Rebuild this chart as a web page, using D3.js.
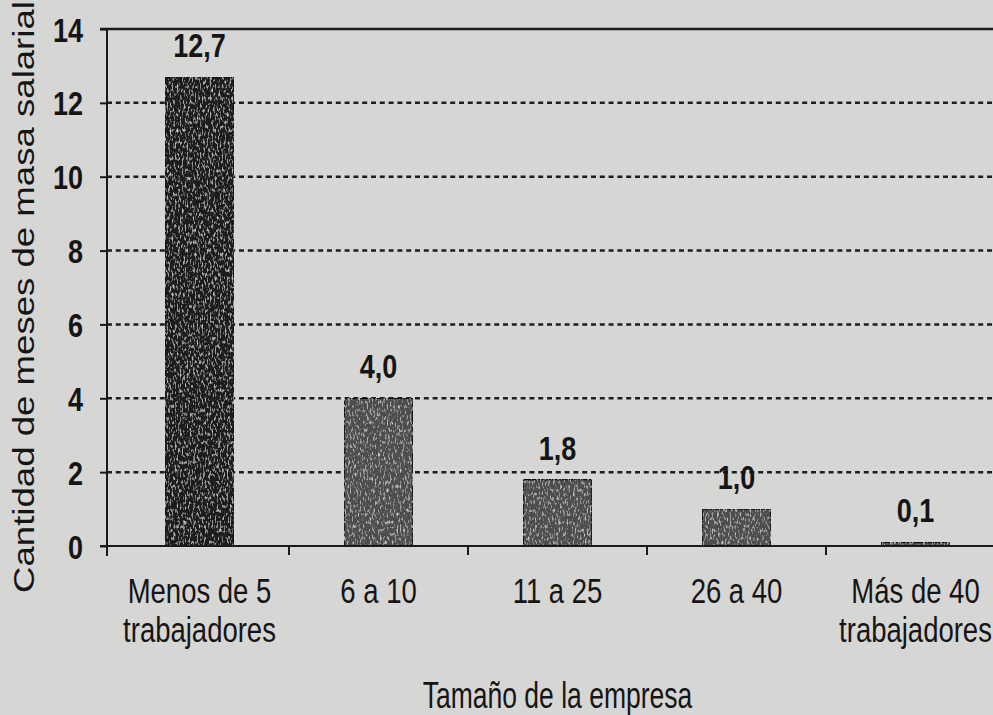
<!DOCTYPE html>
<html>
<head>
<meta charset="utf-8">
<script src="https://cdn.jsdelivr.net/npm/d3@7/dist/d3.min.js"></script>
<style>
  html, body { margin: 0; padding: 0; background: #d6d6d4; }
  svg { display: block; }
</style>
</head>
<body>
<div id="chart"></div>
<script>
// Tamaño de empresa vs. meses de masa salarial
const categories = [
  ['Menos de 5', 'trabajadores'],
  ['6 a 10'],
  ['11 a 25'],
  ['26 a 40'],
  ['Más de 40', 'trabajadores']
];
const values = [12.7, 4.0, 1.8, 1.0, 0.1];
const valueLabels = ['12,7', '4,0', '1,8', '1,0', '0,1'];
const yTicks = [0, 2, 4, 6, 8, 10, 12, 14];

const width = 993, height = 715;
const margin = { top: 29, left: 107, bottom: 169 };
const innerW = width - margin.left;
const innerH = height - margin.top - margin.bottom;

// the scan is stretched vertically, so text is drawn taller than wide
const font = '"Liberation Sans", Arial, sans-serif';
const ink = '#151515';

const svg = d3.select('#chart').append('svg')
  .attr('width', width)
  .attr('height', height);

// speckled texture for the bars
const defs = svg.append('defs');
const filt = defs.append('filter').attr('id', 'grain')
  .attr('x', 0).attr('y', 0).attr('width', 1).attr('height', 1);
filt.append('feTurbulence').attr('type', 'fractalNoise')
  .attr('baseFrequency', '0.6 0.25').attr('numOctaves', 2).attr('seed', 3).attr('result', 'noise');
filt.append('feColorMatrix').attr('in', 'noise').attr('type', 'matrix')
  .attr('values', '0 0 0 0 1  0 0 0 0 1  0 0 0 0 1  1.8 0 0 0 -0.95').attr('result', 'spots');
filt.append('feComposite').attr('in', 'spots').attr('in2', 'SourceGraphic').attr('operator', 'in').attr('result', 'spotsIn');
filt.append('feMerge').call(m => {
  m.append('feMergeNode').attr('in', 'SourceGraphic');
  m.append('feMergeNode').attr('in', 'spotsIn');
});

const g = svg.append('g').attr('transform', `translate(${margin.left},${margin.top})`);

const x = d3.scaleBand()
  .domain(d3.range(categories.length))
  .range([3, 3 + 179 * categories.length])
  .padding(0);

const y = d3.scaleLinear().domain([0, 14]).range([innerH, 0]);

// dashed gridlines
g.append('g').selectAll('line')
  .data(yTicks.filter(d => d > 0 && d < 14))
  .join('line')
  .attr('x1', 0).attr('x2', innerW)
  .attr('y1', d => y(d)).attr('y2', d => y(d))
  .attr('stroke', '#1e1e1e')
  .attr('stroke-width', 2.5)
  .attr('stroke-dasharray', '5,3.8');

// top border line
g.append('line')
  .attr('x1', -7).attr('x2', innerW)
  .attr('y1', y(14)).attr('y2', y(14))
  .attr('stroke', '#1a1a1a').attr('stroke-width', 2.5);

// bars
const barW = 69;
g.append('g').selectAll('rect')
  .data(values)
  .join('rect')
  .attr('x', (d, i) => x(i) + x.bandwidth() / 2 - barW / 2)
  .attr('y', d => y(d))
  .attr('width', barW)
  .attr('height', d => y(0) - y(d))
  .attr('fill', (d, i) => i === 0 ? '#1a1a1a' : '#4e4e4e')
  .attr('stroke', '#111')
  .attr('stroke-width', 1.5)
  .attr('filter', 'url(#grain)');

// value labels
g.append('g').selectAll('text')
  .data(values)
  .join('text')
  .attr('transform', (d, i) => `translate(${x(i) + x.bandwidth() / 2},${y(d) - 20}) scale(1,1.2)`)
  .attr('text-anchor', 'middle')
  .attr('font-family', font)
  .attr('font-weight', 'bold')
  .attr('font-size', 27)
  .attr('fill', ink)
  .text((d, i) => valueLabels[i]);

// y axis
const yAxis = g.append('g')
  .call(d3.axisLeft(y).tickValues(yTicks).tickSize(7).tickFormat(d3.format('d')));
yAxis.select('.domain').remove();
yAxis.selectAll('.tick line').attr('stroke', '#1a1a1a').attr('stroke-width', 2);
yAxis.selectAll('.tick text')
  .attr('x', null).attr('dy', null)
  .attr('transform', 'translate(-24,12) scale(1,1.2)')
  .attr('font-family', font)
  .attr('font-weight', 'bold')
  .attr('font-size', 27)
  .attr('fill', ink);

g.append('line')
  .attr('x1', 0).attr('x2', 0)
  .attr('y1', y(14)).attr('y2', innerH + 10)
  .attr('stroke', '#1a1a1a').attr('stroke-width', 2);

// x axis
g.append('line')
  .attr('x1', -7).attr('x2', innerW)
  .attr('y1', innerH).attr('y2', innerH)
  .attr('stroke', '#1a1a1a').attr('stroke-width', 2);

g.append('g').selectAll('line')
  .data(d3.range(1, categories.length))
  .join('line')
  .attr('x1', d => x(d)).attr('x2', d => x(d))
  .attr('y1', innerH).attr('y2', innerH + 9)
  .attr('stroke', '#1a1a1a').attr('stroke-width', 2);

categories.forEach((lines, i) => {
  lines.forEach((s, j) => {
    g.append('text')
      .attr('transform', `translate(${x(i) + x.bandwidth() / 2},${innerH + 57 + j * 39}) scale(1,1.27)`)
      .attr('text-anchor', 'middle')
      .attr('font-family', font)
      .attr('font-size', 27.5)
      .attr('fill', ink)
      .text(s);
  });
});

// axis titles
svg.append('text')
  .attr('transform', `translate(${margin.left + 3 + 179 * 2.5},708) scale(1,1.36)`)
  .attr('text-anchor', 'middle')
  .attr('font-family', font)
  .attr('font-size', 26.5)
  .attr('fill', ink)
  .text('Tamaño de la empresa');

svg.append('text')
  .attr('transform', 'translate(34,297) rotate(-90) scale(1.22,1)')
  .attr('text-anchor', 'middle')
  .attr('font-family', font)
  .attr('font-size', 30)
  .attr('fill', ink)
  .text('Cantidad de meses de masa salarial');
</script>
</body>
</html>
